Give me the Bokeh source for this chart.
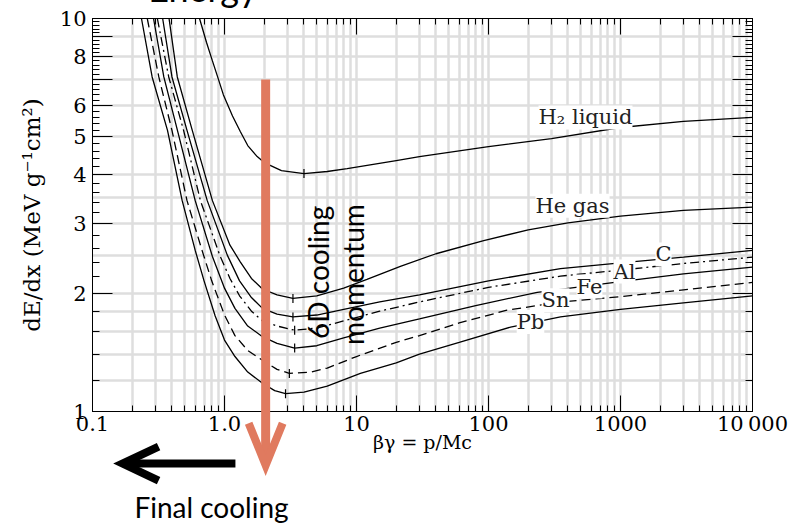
import numpy as np
from bokeh.plotting import figure
from bokeh.models import (Range1d, LogAxis, FixedTicker, Label, CustomJSTickFormatter)
from bokeh.core.properties import value
from bokeh.embed import file_html
from bokeh.resources import INLINE

# ---------------- data ----------------
bg_h2 = [0.647, 0.73, 0.81, 0.9, 0.98, 1.15, 1.32, 1.5, 1.75, 2.0, 2.7, 4.0, 6, 8.5, 20, 30, 100, 300, 1000, 3000, 10000]
de_h2 = [10, 8.7, 7.8, 7.0, 6.4, 5.65, 5.15, 4.75, 4.47, 4.3, 4.1, 4.03, 4.08, 4.15, 4.35, 4.45, 4.72, 4.95, 5.28, 5.47, 5.6]

bg_he = [0.38, 0.439, 0.57, 0.81, 1.1, 1.32, 1.6, 1.94, 2.5, 3.3, 5, 8, 12, 21.5, 40, 92, 200, 400, 1000, 3000, 10000]
de_he = [10, 7.1, 5.19, 3.44, 2.65, 2.4, 2.18, 2.05, 1.98, 1.94, 1.97, 2.06, 2.17, 2.34, 2.52, 2.72, 2.9, 3.02, 3.14, 3.25, 3.31]

bg_c = [0.34, 0.40, 0.52, 0.74, 1.05, 1.3, 1.6, 1.94, 2.5, 3.3, 5, 8, 15, 30, 100, 351, 1000, 3000, 10000]
de_c = [10, 7.1, 5.19, 3.44, 2.5, 2.15, 1.95, 1.83, 1.77, 1.74, 1.76, 1.82, 1.90, 1.98, 2.15, 2.31, 2.39, 2.47, 2.57]

bg_al = [0.31, 0.378, 0.49, 0.657, 0.92, 1.1, 1.3, 1.6, 1.94, 2.5, 3.4, 5, 8, 15, 30, 100, 351, 1000, 3000, 10000]
de_al = [10, 7.1, 5.19, 3.44, 2.5, 2.18, 1.97, 1.80, 1.70, 1.65, 1.61, 1.63, 1.70, 1.80, 1.90, 2.07, 2.21, 2.29, 2.38, 2.47]

bg_fe = [0.29, 0.347, 0.44, 0.60, 0.81, 1.0, 1.2, 1.5, 1.94, 2.5, 3.4, 5, 8, 15, 30, 80, 234, 1000, 3000, 10000]
de_fe = [10, 7.1, 5.19, 3.44, 2.48, 2.06, 1.83, 1.65, 1.55, 1.49, 1.45, 1.47, 1.54, 1.63, 1.72, 1.86, 2.01, 2.14, 2.24, 2.33]

bg_sn = [0.26, 0.318, 0.40, 0.52, 0.676, 0.80, 1.0, 1.2, 1.5, 1.94, 2.5, 3.1, 4.5, 6, 10, 20, 30, 60, 138, 351, 1000, 3000, 10000]
de_sn = [10, 7.1, 5.19, 3.44, 2.57, 2.15, 1.76, 1.56, 1.43, 1.35, 1.28, 1.25, 1.26, 1.29, 1.38, 1.50, 1.56, 1.68, 1.81, 1.90, 1.96, 2.04, 2.13]

bg_pb = [0.235, 0.283, 0.37, 0.478, 0.60, 0.70, 0.85, 1.0, 1.2, 1.5, 1.94, 2.4, 2.9, 4, 6, 10.7, 20, 30, 60, 147, 351, 1000, 3000, 10000]
de_pb = [10, 7.1, 5.19, 3.44, 2.57, 2.15, 1.75, 1.52, 1.38, 1.26, 1.18, 1.13, 1.11, 1.12, 1.16, 1.25, 1.33, 1.40, 1.50, 1.64, 1.74, 1.82, 1.89, 1.97]

# minimum-ionization marks
min_bg = [4.0, 3.3, 3.3, 3.4, 3.4, 3.1, 2.9]
min_de = [4.03, 1.94, 1.74, 1.61, 1.45, 1.25, 1.11]

# curve labels
lab_text = ["H\u2082 liquid", "He gas", "C", "Al", "Fe", "Sn", "Pb"]
lab_x = [543, 433, 2118, 1072, 582, 322, 208]
lab_y = [5.6, 3.34, 2.51, 2.27, 2.08, 1.92, 1.69]

# ticks
x_ticks = [0.1, 1, 10, 100, 1000, 10000]
x_tick_labels = ["0.1", "1.0", "10", "100", "1000", "10\u2009000"]
x_minor = [m * 10.0 ** k for k in range(-1, 4) for m in range(2, 10)]
y_ticks = [1, 2, 3, 4, 5, 6, 7, 8, 9, 10]
y_tick_labels = ["1", "2", "3", "4", "5", "6", "", "8", "", "10"]
y_minor = [round(1 + 0.2 * i, 1) for i in range(1, 45) if abs((1 + 0.2 * i) - round(1 + 0.2 * i)) > 1e-6]
y_grid = [1.2, 1.4, 1.6, 1.8, 2, 2.5, 3, 3.5, 4, 5, 6, 7, 8, 9]
x_grid = x_ticks[1:-1] + x_minor

# annotation anchors (data units)
arrow_x, arrow_top, arrow_tip = 2.05, 7.0, 0.73
left_start, left_tip, left_y = 1.21, 0.169, 0.737
head_text, head_x, head_y = ["Energy"], [1.78], [10.48]
foot_text, foot_x, foot_y = ["Final cooling"], [0.797], [0.573]
rot_text = ["6D cooling", "momentum"]
rot_x, rot_y = [5.15, 9.33], [2.26, 2.23]

SERIF = "DejaVu Serif"
SANS = "Lato"
ORANGE = "#E07A5F"

p = figure(width=788, height=525, x_axis_type="log", y_axis_type="log",
           x_range=Range1d(0.1, 10000), y_range=Range1d(1, 10),
           output_backend="svg", toolbar_location=None,
           min_border_left=92, min_border_right=36, min_border_top=18,
           min_border_bottom=114, background_fill_color="white",
           border_fill_color="white")
p.outline_line_color = "black"
p.outline_line_width = 1

# grids
p.xgrid.ticker = FixedTicker(ticks=x_grid)
p.ygrid.ticker = FixedTicker(ticks=y_grid)
for g in (p.xgrid, p.ygrid):
    g.grid_line_color = "#dedede"
    g.grid_line_width = 2.5

xt = FixedTicker(ticks=x_ticks, minor_ticks=x_minor)
yt = FixedTicker(ticks=y_ticks, minor_ticks=y_minor)

xa = p.xaxis[0]
xa.ticker = xt
xa.major_label_overrides = dict(zip(x_ticks, x_tick_labels))
xa.axis_label = "\u03b2\u03b3 = p/Mc"
ya = p.yaxis[0]
ya.ticker = yt
ya.major_label_overrides = dict(zip(y_ticks, y_tick_labels))
ya.axis_label = "dE/dx (MeV g\u207b\u00b9cm\u00b2)"

top = LogAxis(ticker=xt, formatter=CustomJSTickFormatter(code="return ''"))
right = LogAxis(ticker=yt, formatter=CustomJSTickFormatter(code="return ''"))
p.add_layout(top, "above")
p.add_layout(right, "right")

for ax, tin, tmin in ((xa, 16, 6), (top, 16, 6), (ya, 20, 7), (right, 20, 7)):
    ax.major_tick_in = tin
    ax.major_tick_out = 0
    ax.minor_tick_in = tmin
    ax.minor_tick_out = 0
    ax.axis_line_color = "black"
    ax.major_tick_line_color = "black"
    ax.minor_tick_line_color = "black"
    ax.major_label_text_font = SERIF
    ax.major_label_text_font_size = "21px"
    ax.major_label_text_color = "black"
    ax.axis_label_text_font = SERIF
    ax.axis_label_text_font_style = "normal"
    ax.axis_label_text_color = "black"
xa.axis_label_text_font_size = "19px"
ya.axis_label_text_font_size = "23px"
xa.major_label_standoff = 0
xa.axis_label_standoff = -8
ya.major_label_standoff = 6
ya.axis_label_standoff = 12

# curves
curves = [(bg_h2, de_h2, "solid"), (bg_he, de_he, "solid"), (bg_c, de_c, "solid"),
          (bg_al, de_al, "9 4 2 4"), (bg_fe, de_fe, "solid"),
          (bg_sn, de_sn, "9 5"), (bg_pb, de_pb, "solid")]
for bx, dy, dash in curves:
    p.line(bx, dy, line_color="black", line_width=1.3, line_dash=dash)

p.scatter(min_bg, min_de, marker="dash", angle=np.pi / 2, size=9,
          line_color="black", line_width=1.2)

for t, lx, ly in zip(lab_text, lab_x, lab_y):
    p.add_layout(Label(x=lx, y=ly, text=t, text_align="center", text_baseline="middle",
                       text_font=SERIF, text_font_size="21px", text_color="#222222",
                       background_fill_color="white"))

# arrows: drawn as lines at overlay level so they may leave the frame
kx = 10 ** (17 / 132)     # head half width  (~17 px on the x scale)
ky = 10 ** (42 / 393)     # head length      (~42 px on the y scale)
p.line([arrow_x, arrow_x], [arrow_top, arrow_tip * 1.02], line_color=ORANGE,
       line_width=9, level="overlay")
p.line([arrow_x / kx, arrow_x, arrow_x * kx], [arrow_tip * ky, arrow_tip, arrow_tip * ky],
       line_color=ORANGE, line_width=8, line_join="miter", level="overlay")
hx = 10 ** (36 / 132)     # head length (~36 px on the x scale)
hy = 10 ** (17 / 393)     # head half height (~17 px on the y scale)
p.line([left_start, left_tip * 1.02], [left_y, left_y], line_color="black",
       line_width=8, level="overlay")
p.line([left_tip * hx, left_tip, left_tip * hx], [left_y * hy, left_y, left_y / hy],
       line_color="black", line_width=8, line_join="miter", level="overlay")

# texts
p.text(rot_x, rot_y, text=rot_text, angle=np.pi / 2, text_align="center",
       text_baseline="middle", text_font=value(SANS), text_font_size="28px",
       text_color="black", level="overlay")
p.text(foot_x, foot_y, text=foot_text, text_align="center", text_baseline="middle",
       text_font=value(SANS), text_font_size="28px", text_color="black", level="overlay")
p.text(head_x, head_y, text=head_text, text_align="right", text_baseline="bottom",
       text_font=value(SANS), text_font_size="36px", text_color="black", level="overlay")

open("out.html", "w").write(file_html(p, INLINE))
